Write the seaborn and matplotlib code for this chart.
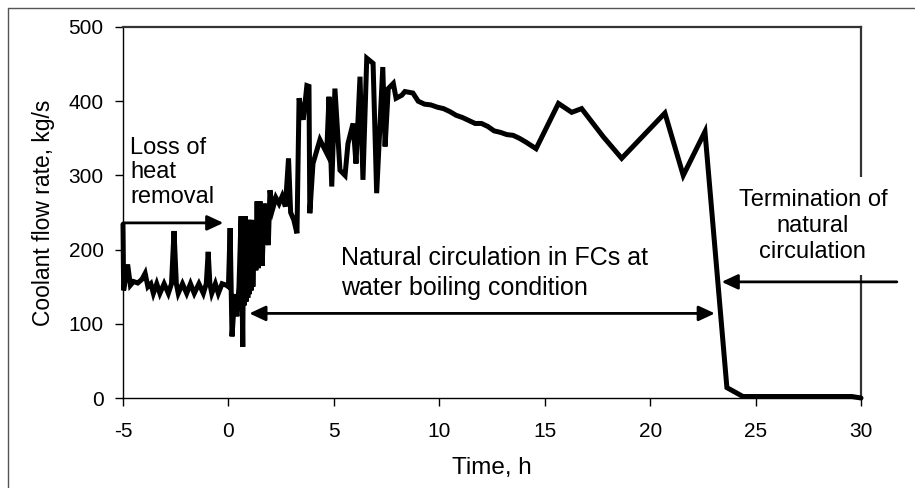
import matplotlib
matplotlib.use("Agg")
import matplotlib.pyplot as plt
from matplotlib.lines import Line2D
import pandas as pd
import seaborn as sns

# Coolant flow rate history (time in hours, flow in kg/s)
time_h = [
    -5.0, -4.97, -4.78, -4.65, -4.5, -4.3, -4.1, -3.95, -3.82, -3.68,
    -3.56, -3.4, -3.25, -3.05, -2.85, -2.7, -2.58, -2.47, -2.38, -2.18,
    -1.98, -1.8, -1.62, -1.4, -1.19, -1.05, -0.96, -0.88, -0.79, -0.62,
    -0.48, -0.3, -0.1, 0.0,
    0.08, 0.17, 0.3, 0.4, 0.5, 0.6, 0.68, 0.72, 0.76, 0.8,
    0.84, 0.88, 0.92, 0.96, 1.0, 1.04, 1.08, 1.12, 1.16, 1.22,
    1.3, 1.36, 1.42, 1.5, 1.6, 1.7,
    1.8, 1.89, 1.97, 2.1, 2.25, 2.4, 2.55, 2.7, 2.85, 2.95,
    3.1, 3.25, 3.35, 3.55, 3.72, 3.82, 3.86, 4.01, 4.34, 4.66,
    4.77, 4.9, 5.05, 5.29, 5.53, 5.67, 5.91, 6.05, 6.24, 6.38,
    6.56, 6.86, 7.03, 7.32, 7.43, 7.58, 7.82, 7.95, 8.22, 8.37,
    8.75, 9.0, 9.3, 9.6, 9.9, 10.2, 10.5, 10.8, 11.1, 11.4,
    11.7, 12.0, 12.3, 12.6, 12.9, 13.2, 13.5, 13.8, 14.1, 14.59,
    15.65, 16.28, 16.75, 17.78, 18.65, 20.7, 21.57, 22.6, 23.64, 24.4,
    29.57, 30.0,
]
flow_kg_s = [
    234, 145, 180, 152, 157, 155, 160, 168, 150, 154,
    141, 154, 141, 154, 141, 154, 225, 154, 141, 154,
    141, 154, 141, 154, 141, 154, 197, 154, 141, 154,
    141, 154, 152, 150,
    229, 83, 140, 110, 150, 245, 69, 245, 125, 245,
    130, 240, 135, 240, 140, 240, 145, 240, 150, 232,
    172, 265, 175, 265, 178, 262,
    230, 206, 280, 255, 270, 262, 272, 258, 323, 250,
    240, 222, 404, 375, 421, 420, 249, 316, 348, 330,
    406, 285, 417, 307, 300, 343, 370, 316, 433, 294,
    458, 451, 276, 446, 339, 417, 424, 404, 408, 413,
    411, 400, 396, 395, 392, 390, 386, 381, 378, 374,
    370, 370, 366, 360, 358, 355, 354, 350, 345, 336,
    397, 385, 390, 352, 323, 384, 300, 359, 14, 2,
    2, 0,
]

x_ticks = [-5, 0, 5, 10, 15, 20, 25, 30]
y_ticks = [0, 100, 200, 300, 400, 500]

sns.set_theme(style="white")
plt.rcParams["font.family"] = ["Liberation Sans", "DejaVu Sans"]
plt.rcParams["text.color"] = "black"
plt.rcParams["axes.labelcolor"] = "black"
plt.rcParams["xtick.color"] = "black"
plt.rcParams["ytick.color"] = "black"

fig = plt.figure(figsize=(9.15, 4.88), dpi=100)
fig.patch.set_facecolor("white")
ax = fig.add_axes([123 / 915, 90 / 488, 738 / 915, 371 / 488])

df = pd.DataFrame({"Time, h": time_h, "Coolant flow rate, kg/s": flow_kg_s})
sns.lineplot(data=df, x="Time, h", y="Coolant flow rate, kg/s", ax=ax,
             sort=False, estimator=None, color="black", linewidth=3.6,
             zorder=4)
ax.lines[0].set_solid_joinstyle("miter")
ax.lines[0].set_clip_on(False)

ax.set_xlim(-5, 30)
ax.set_ylim(0, 500)
ax.set_xticks(x_ticks)
ax.set_yticks(y_ticks)
ax.set_xticklabels([str(v) for v in x_ticks])
ax.tick_params(axis="both", direction="out", length=6, width=1,
               labelsize=15, bottom=True, left=True)
ax.tick_params(axis="x", pad=11)
ax.tick_params(axis="y", pad=8)
for side in ["left", "bottom", "top", "right"]:
    ax.spines[side].set_color("black")
    ax.spines[side].set_linewidth(1.0)
ax.spines["top"].set_linewidth(1.6)
ax.spines["right"].set_linewidth(1.6)
ax.spines["top"].set_color("#333333")
ax.spines["right"].set_color("#333333")

ax.set_xlabel("Time, h", fontsize=17.5)
ax.set_ylabel("Coolant flow rate, kg/s", fontsize=16.5)
ax.xaxis.set_label_coords(0.5, -0.158)
ax.yaxis.set_label_coords(-0.092, 0.5)

arrow_kw = dict(arrowstyle="-|>,head_length=0.75,head_width=0.35",
                mutation_scale=13, color="black", lw=2,
                shrinkA=0, shrinkB=0)

# Loss of heat removal
ax.text(-4.67, 304, "Loss of\nheat\nremoval", fontsize=17, ha="left",
        va="center", linespacing=1.13)
ax.annotate("", xy=(-0.24, 236), xytext=(-5, 236), arrowprops=arrow_kw,
            annotation_clip=False)

# Natural circulation period
ax.text(5.35, 168, "Natural circulation in FCs at\nwater boiling condition",
        fontsize=18, ha="left", va="center", linespacing=1.3)
ax.annotate("", xy=(0.99, 114), xytext=(23.07, 114),
            arrowprops=dict(arrow_kw, arrowstyle="<|-|>,head_length=0.75,head_width=0.35"),
            annotation_clip=False)

# Termination of natural circulation
ax.text(27.72, 232, "Termination of\nnatural\ncirculation", fontsize=17,
        ha="center", va="center", multialignment="center", linespacing=1.22,
        clip_on=False, zorder=3,
        bbox=dict(facecolor="white", edgecolor="none", pad=9))
ax.annotate("", xy=(23.39, 156.5), xytext=(31.7, 156.5),
            arrowprops=arrow_kw, annotation_clip=False, zorder=5)

# Outer frame of the figure
fig.add_artist(Line2D([8 / 915, 8 / 915], [0, 1 - 8 / 488],
                      transform=fig.transFigure, color="#555555", lw=1))
fig.add_artist(Line2D([8 / 915, 1], [1 - 8 / 488, 1 - 8 / 488],
                      transform=fig.transFigure, color="#555555", lw=1))

fig.savefig("out.png", dpi=100, facecolor="white")
